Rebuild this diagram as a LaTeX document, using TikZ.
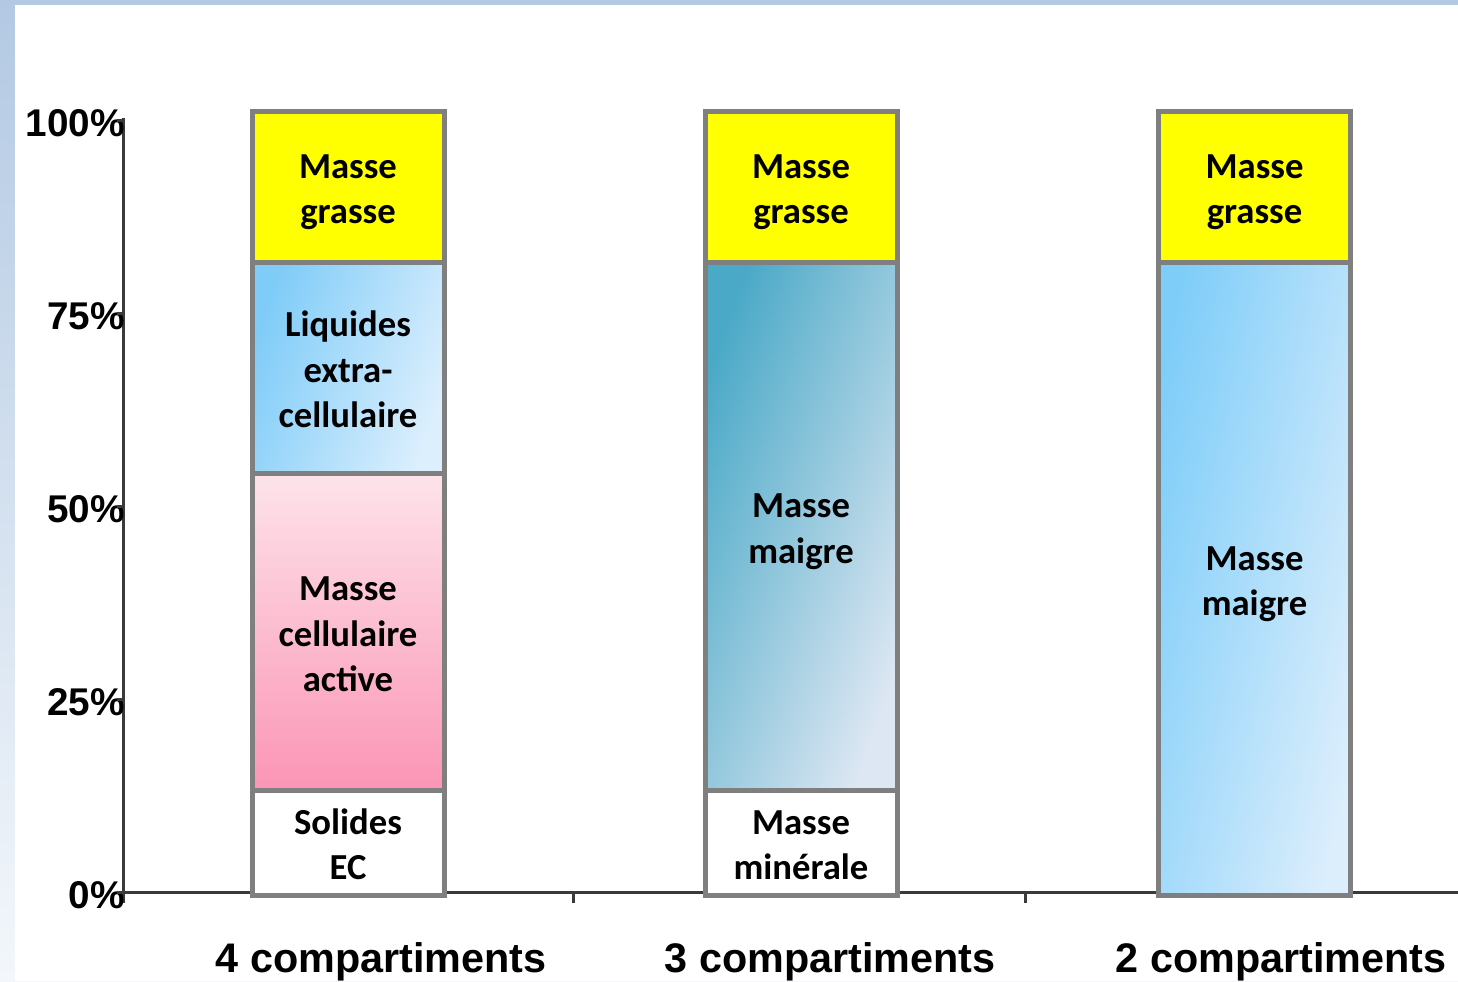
\documentclass[tikz,border=0pt]{standalone}
\usepackage{fontspec}
\setmainfont{Carlito}
\setsansfont{Liberation Sans}
\usetikzlibrary{positioning}

\definecolor{frametop}{HTML}{B3C9E3}
\definecolor{framebot}{HTML}{F3F7FB}
\definecolor{barline}{HTML}{7F7F7F}
\definecolor{axisgray}{HTML}{3A3A3A}
\definecolor{gras}{HTML}{FFFF00}
\definecolor{lecA}{HTML}{7FCCF8}
\definecolor{lecB}{HTML}{DCEFFD}
\definecolor{mcaA}{HTML}{FDE3EA}
\definecolor{mcaB}{HTML}{FB95B5}
\definecolor{mmA}{HTML}{4AA9C7}
\definecolor{mmB}{HTML}{DDE7F3}
\definecolor{mlA}{HTML}{7ECDF9}
\definecolor{mlB}{HTML}{DCEEFC}

\begin{document}
\begin{tikzpicture}[x=0.75pt,y=-0.75pt,node distance=0pt,
  seg/.style={draw=barline, line width=3.75pt, outer sep=0pt, inner sep=0pt,
    minimum width=144pt, align=center, text depth=0pt, text height=55pt,
    font=\fontsize{27.5}{34}\selectfont\bfseries},
  three/.style={text height=89pt},
  pct/.style={anchor=east, inner sep=0pt, font=\sffamily\bfseries\fontsize{29}{29}\selectfont},
  cat/.style={anchor=base, inner sep=0pt, font=\sffamily\bfseries\fontsize{31}{31}\selectfont},
  axis/.style={draw=axisgray, line width=2.25pt}]

  \useasboundingbox (0,0) rectangle (1458,981);
  \shade[top color=frametop, bottom color=framebot] (0,0) rectangle (1458,981);
  \fill[white] (15,5) rectangle (1458,981);

  \coordinate (ytop) at (123,118);
  \coordinate (ybot) at (123,903);
  \coordinate (o) at (123,892);
  \coordinate (xend) at (1458,892);
  \draw[axis] (ytop) -- (ybot);
  \draw[axis] (o) -- (xend);
  \foreach \x in {573,1025}
    \draw[axis] (\x,892) -- (\x,903);
  \foreach \k/\t in {0/0,1/25,2/50,3/75,4/100} {
    \node[pct] (p\t) at (125,{895-193*\k}) {\t\%};
    \draw[axis] (117,{892-193*\k}) -- (123,{892-193*\k});
  }

  \node[seg, fill=gras, minimum height=113.6pt] (g1) at (348,186.75) {Masse\\grasse};
  \node[seg, three, left color=lecA, right color=lecB, shading angle=70,
    minimum height=158.6pt] (l1) [below=of g1] {Liquides\\extra-\\cellulaire};
  \node[seg, three, top color=mcaA, bottom color=mcaB, minimum height=237.4pt] (c1) [below=of l1]
    {Masse\\cellulaire\\active};
  \node[seg, fill=white, minimum height=79.1pt] (s1) [below=of c1] {Solides\\EC};

  \node[seg, fill=gras, minimum height=113.6pt] (g2) at (801,186.75) {Masse\\grasse};
  \node[seg, left color=mmA, right color=mmB, shading angle=70,
    minimum height=396pt] (m2) [below=of g2] {Masse\\maigre};
  \node[seg, fill=white, minimum height=79.1pt] (n2) [below=of m2] {Masse\\minérale};

  \node[seg, fill=gras, minimum height=113.6pt] (g3) at (1254.5,186.75) {Masse\\grasse};
  \node[seg, left color=mlA, right color=mlB, shading angle=78,
    minimum height=475.1pt] (m3) [below=of g3] {Masse\\maigre};

  \node[cat] (k4) at (381,972) {4 compartiments};
  \node[cat] (k3) at (830,972) {3 compartiments};
  \node[cat] (k2) at (1281,972) {2 compartiments};
\end{tikzpicture}
\end{document}
